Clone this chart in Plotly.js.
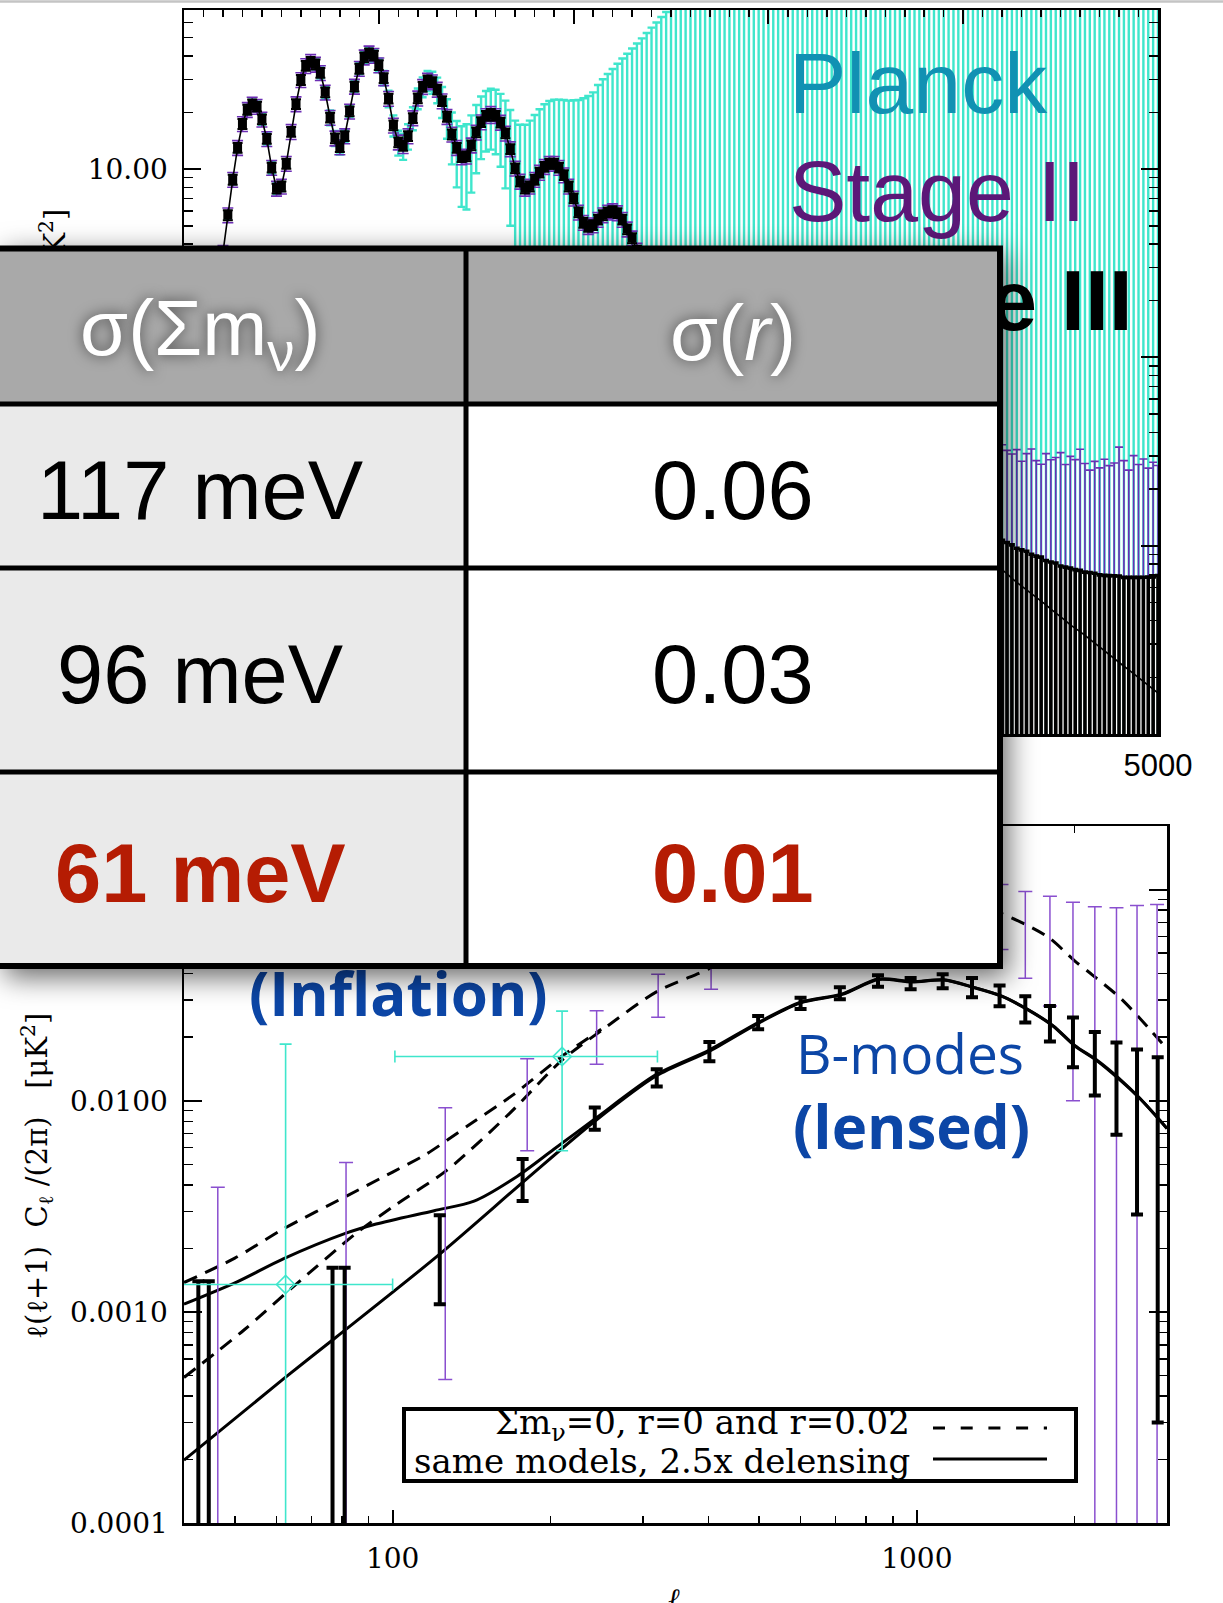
<!DOCTYPE html>
<html>
<head>
<meta charset="utf-8">
<script src="https://cdn.plot.ly/plotly-3.0.1.min.js"></script>
<style>
  html, body { margin: 0; padding: 0; background: #fff; overflow: hidden; }
  #spectra, #summary { position: absolute; left: 0; top: 0; width: 1223px; height: 1603px; }
  #summary { pointer-events: none; filter: drop-shadow(5px 8px 14px rgba(0,0,0,0.6)); }
</style>
</head>
<body>
<div id="spectra"></div>
<div id="summary"></div>
<script>
const W = 1223, H = 1603;

// ---------- E-mode spectrum (upper panel), bins of 25 in multipole from 200 ----------
const eeBinStart = 200, eeBinStep = 25;
const eeAcoustic = [
  3.6, 5.7, 8.8, 13.0, 17.4, 20.7, 22.1, 21.5, 18.4, 14.5,
  10.2, 7.9, 8.1, 10.7, 15.8, 22.2, 29.8, 35.4, 37.2, 36.0,
  32.5, 25.6, 18.8, 14.6, 13.1, 15.0, 20.3, 27.5, 34.2, 39.3,
  41.3, 40.1, 35.7, 30.5, 23.7, 17.1, 13.9, 13.3, 15.0, 18.7,
  23.8, 27.4, 29.6, 29.0, 26.5, 23.0, 19.0, 15.3, 13.0, 11.6,
  11.7, 13.4, 15.7, 17.8, 19.2, 19.7, 19.2, 17.7, 15.5, 12.8,
  10.1, 8.6, 7.9, 8.1, 8.8, 9.6, 10.3, 10.7, 10.7, 10.2,
  9.3, 8.1, 7.0, 5.9, 5.2, 4.95, 5.05, 5.4, 5.7, 5.9,
  6.0, 5.85, 5.4, 4.8, 4.3, 3.7
];
const eeTail = [
  3.3, 3.1, 3.05, 3.1, 3.2, 3.3, 3.3, 3.2, 3.0, 2.7,
  2.4, 2.15, 2.0, 1.95, 1.95, 1.93, 1.88, 1.78, 1.62, 1.46,
  1.32, 1.2, 1.1, 1.02, 0.96, 0.88, 0.8, 0.76, 0.72, 0.68,
  0.645, 0.61, 0.58, 0.55, 0.52, 0.49, 0.465, 0.44, 0.415, 0.39,
  0.37, 0.35, 0.33, 0.31, 0.295, 0.282, 0.27, 0.258, 0.246, 0.235,
  0.224, 0.214, 0.204, 0.195, 0.186, 0.178, 0.17, 0.162, 0.155, 0.148,
  0.141, 0.135, 0.129, 0.123, 0.117, 0.112, 0.107, 0.102, 0.097, 0.093,
  0.089, 0.085, 0.081, 0.0775
];
const eeDampingBand = [
  0.074, 0.071, 0.067, 0.064, 0.061, 0.0585, 0.056, 0.053, 0.051, 0.0485,
  0.046, 0.044, 0.042, 0.040, 0.038, 0.0366, 0.035, 0.0334, 0.032, 0.0304,
  0.029, 0.0276, 0.0264, 0.0252, 0.024, 0.0229, 0.0219, 0.0209, 0.0199, 0.019,
  0.0181, 0.0173, 0.0165
];
const eeModel = eeAcoustic.concat(eeTail, eeDampingBand);
const dampingBandStart = 4200;

// Planck EE uncertainty per bin
const planckErrEE = [
  0.2, 0.3, 0.5, 0.7, 1.0, 1.2, 1.3, 1.3, 1.2, 1.0, 0.8, 0.55, 0.45, 0.5, 0.65, 0.95, 1.35, 1.8, 2.1, 2.2,
  2.2, 2.0, 1.7, 1.35, 1.15, 1.15, 1.4, 1.8, 2.3, 2.7, 2.9, 3.0, 2.9, 2.7, 2.4, 2.2, 2.1, 2.1, 2.3, 2.6,
  3.0, 3.3, 3.6, 3.9, 4.1, 4.3, 4.5, 4.7, 5.0, 5.3, 5.6, 5.9, 6.2, 6.5, 6.8, 7.0, 7.2, 7.4, 7.6, 7.8,
  8.0, 8.6, 9.3, 10.0, 10.6, 11.2, 11.8, 12.3, 12.7, 13.2, 14.0, 15.0, 16.2, 17.4, 18.6, 19.5, 20.5, 22.6, 24.3, 26.1,
  28.0, 30.4, 33.3, 36.2, 39.4, 42.8, 46.2, 49.7, 53.4, 57, 61, 65, 69, 75, 81, 88, 96, 105, 115, 126,
  138, 151, 165, 181, 198, 217, 238, 261, 286, 313, 343, 376, 412, 450, 495, 540, 590, 650, 710, 780,
  850, 930, 1020, 1120, 1220, 1340, 1460, 1600, 1750, 1920, 2100, 2300, 2520, 2760, 3020, 3300, 3620, 3960, 4330, 4740,
  5190, 5680, 6220, 6800, 7450, 8150, 8920, 9760, 10700, 11700, 12800, 14000, 15300, 16800, 18400, 20100, 22000, 24100, 26400, 28900,
  31600, 34600, 37900, 41500, 45400, 49700, 54400, 59600, 65200, 71400, 78100, 85500, 93600, 102000, 112000, 123000, 134000,
  147000, 161000, 176000, 193000, 211000, 231000, 253000, 277000, 303000, 332000, 363000, 398000, 435000, 477000, 522000, 571000
];
// Stage II / Stage III upward uncertainties across the damping band (4200 ≤ ℓ ≤ 5000);
// the downward side of these bars reaches zero power
const stage2ErrDamping = [0.27,0.25,0.24,0.26,0.22,0.25,0.27,0.23,0.22,0.26,0.24,0.25,0.27,0.23,0.26,0.25,0.29,
                          0.24,0.22,0.25,0.23,0.26,0.24,0.25,0.31,0.26,0.23,0.28,0.25,0.27,0.24,0.26,0.25];
const stage3ErrDamping = [0.033,0.033,0.034,0.033,0.034,0.035,0.034,0.035,0.036,0.035,0.036,0.037,0.036,0.037,0.038,0.038,
                          0.039,0.039,0.040,0.041,0.041,0.042,0.043,0.044,0.045,0.045,0.046,0.047,0.048,0.049,0.050,0.051,0.053];
// fractional errors on the acoustic-peak points
const stage2PctErr = 9, stage3PctErr = 6;

// ---------- B-mode spectrum (lower panel) ----------
const lensR02Ell = [40, 50, 62, 82, 100, 116, 140, 170, 210, 250];
const lensR02    = [0.00138, 0.0018, 0.00248, 0.00356, 0.0046, 0.0056, 0.0077, 0.0107, 0.0162, 0.0218];
const lensR0Ell  = [40, 52, 64, 85, 101, 127, 167, 210, 250, 320, 400, 500, 600, 720, 845, 980, 1125, 1280, 1450, 1620, 1790, 2000, 2160, 2450, 2810, 3000];
const lensR0     = [0.00049, 0.00082, 0.00129, 0.00235, 0.0032, 0.0047, 0.0087, 0.0155, 0.0215, 0.033, 0.042, 0.056, 0.070, 0.080, 0.090, 0.091, 0.092, 0.086, 0.077, 0.068, 0.059, 0.046, 0.0395, 0.0305, 0.0212, 0.0176];
const delensR0Ell = [40, 62, 78, 122, 180, 243, 318, 402, 500, 600, 721, 844, 979, 1125, 1282, 1449, 1623, 1818, 2000, 2203, 2427, 2670, 3000];
const delensR0    = [0.000199, 0.000484, 0.00076, 0.00185, 0.00426, 0.0080, 0.0131, 0.0172, 0.0234, 0.0291, 0.0319, 0.0375, 0.0365, 0.0373, 0.0344, 0.0313, 0.0271, 0.0226, 0.0182, 0.0155, 0.0127, 0.0102, 0.0074];
const delensR02Ell = [40, 50.5, 62, 81, 93, 120, 143, 173, 203, 243, 318, 402, 500, 600, 721, 844, 979, 1125, 1282, 1449, 1623, 1818, 2000, 2203, 2427, 2670, 3000];
const delensR02    = [0.00109, 0.00139, 0.00179, 0.00235, 0.00261, 0.00302, 0.00335, 0.0044, 0.0059, 0.0082, 0.0133, 0.0174, 0.0236, 0.0293, 0.0321, 0.0377, 0.0367, 0.0374, 0.0345, 0.0314, 0.0272, 0.0227, 0.0183, 0.0156, 0.0128, 0.0102, 0.0074];

const stage3BBEll = [42.6, 44.6, 76.8, 81, 123, 177, 243, 319, 402, 498, 600, 713, 843, 973, 1120, 1274, 1438, 1610, 1794, 1985, 2185, 2403, 2630, 2880];
const stage3BB    = [0.0002, 0.0002, 0.00072, 0.00072, 0.00198, 0.00433, 0.0083, 0.0129, 0.0172, 0.0235, 0.029, 0.0324, 0.037, 0.0359, 0.0369, 0.0345, 0.0316, 0.0274, 0.0236, 0.0196, 0.0159, 0.0129, 0.0102, 0.0082];
const stage3BBErr = [0.0012, 0.0012, 0.0009, 0.0009, 0.00089, 0.00097, 0.001, 0.0012, 0.0018, 0.0017, 0.0018, 0.0021, 0.0023, 0.0022, 0.0028, 0.0036, 0.0036, 0.0039, 0.0045, 0.0052, 0.0053, 0.006, 0.0073, 0.0079];

const stage2BBEll = [46.4, 81.5, 126, 180.6, 245, 321, 405, 500, 600, 713, 843, 973, 1120, 1274, 1450, 1610, 1794, 1985, 2185, 2403, 2630, 2872];
const stage2BB    = [0.0002, 0.0007, 0.00488, 0.0108, 0.0208, 0.0323, 0.046, 0.058, 0.068, 0.076, 0.082, 0.085, 0.085, 0.083, 0.0789, 0.068, 0.0606, 0.0486, 0.04, 0.031, 0.024, 0.018];
const stage2BBErr = [0.0037, 0.0044, 0.0044, 0.005, 0.0059, 0.0074, 0.0123, 0.014, 0.016, 0.018, 0.02, 0.022, 0.024, 0.026, 0.0268, 0.030, 0.0325, 0.0386, 0.043, 0.051, 0.06, 0.067];

const planckBBEll    = [62.5, 210.5];
const planckBB       = [0.00135, 0.0162];
const planckBBErr    = [0.0172, 0.0104];
const planckBBEllErr = [37.5, 109.5];

// ---------- summary table ----------
const tableHeader = ['σ(Σm<sub>ν</sub>)', 'σ(<i>r</i>)'];
const neutrinoMassError = ['117 meV', '96 meV', '61 meV'];
const tensorRatioError  = ['0.06', '0.03', '0.01'];

// ---------- styling ----------
const CYAN = '#3fe6cc', PURPLE = '#6c2db4', PURPLE_BB = '#8a4fcf', BLUE = '#0c46a6';
const SANS = 'Liberation Sans, Arial, sans-serif';
const SERIF = 'DejaVu Serif, serif';
const GILL = 'Open Sans, Lato, sans-serif';

function minorLog(d0, d1) {
  const v = [];
  for (let d = d0; d <= d1; d++) for (let k = 2; k <= 9; k++) v.push(k * Math.pow(10, d));
  return v;
}
const px = (x) => x / W;
const py = (y) => 1 - y / H;

const axBase = {
  showline: true, linecolor: '#000', linewidth: 2.5, mirror: 'allticks',
  ticks: 'inside', tickcolor: '#000', tickwidth: 2, showgrid: false, zeroline: false, fixedrange: true
};
const minorBase = { ticks: 'inside', tickcolor: '#000', tickwidth: 1.5 };
const skip = { hoverinfo: 'skip', showlegend: false };

const eeDamp = eeModel.slice(eeModel.length - eeDampingBand.length);
const eePeaks = eeModel.slice(0, eeAcoustic.length);

const traces = [
  // upper panel
  Object.assign({ type: 'scatter', mode: 'markers', x0: eeBinStart, dx: eeBinStep, y: eeModel,
    marker: { size: 1, color: 'rgba(0,0,0,0)' },
    error_y: { type: 'data', array: planckErrEE, color: CYAN, thickness: 2.4, width: 4 },
    xaxis: 'x', yaxis: 'y' }, skip),
  Object.assign({ type: 'scatter', mode: 'markers', x0: eeBinStart, dx: eeBinStep, y: eePeaks,
    marker: { size: 1, color: 'rgba(0,0,0,0)' },
    error_y: { type: 'percent', value: stage2PctErr, color: PURPLE, thickness: 1.6, width: 5.5 },
    xaxis: 'x', yaxis: 'y' }, skip),
  Object.assign({ type: 'scatter', mode: 'markers', x0: dampingBandStart, dx: eeBinStep, y: eeDamp,
    marker: { size: 1, color: 'rgba(0,0,0,0)' },
    error_y: { type: 'data', symmetric: false, array: stage2ErrDamping, arrayminus: eeDamp, color: PURPLE, thickness: 1.6, width: 4 },
    xaxis: 'x', yaxis: 'y' }, skip),
  Object.assign({ type: 'scatter', mode: 'markers', x0: dampingBandStart, dx: eeBinStep, y: eeDamp,
    marker: { size: 1, color: 'rgba(0,0,0,0)' },
    error_y: { type: 'data', symmetric: false, array: stage3ErrDamping, arrayminus: eeDamp, color: '#000', thickness: 3.6, width: 3 },
    xaxis: 'x', yaxis: 'y' }, skip),
  Object.assign({ type: 'scatter', mode: 'markers', x0: eeBinStart, dx: eeBinStep, y: eePeaks,
    marker: { symbol: 'square', size: 9, color: '#000' },
    error_y: { type: 'percent', value: stage3PctErr, color: '#000', thickness: 2, width: 5 },
    xaxis: 'x', yaxis: 'y' }, skip),
  Object.assign({ type: 'scatter', mode: 'lines', x0: eeBinStart, dx: eeBinStep, y: eeModel,
    line: { color: '#000', width: 1.6 }, xaxis: 'x', yaxis: 'y' }, skip),

  // lower panel: model curves
  Object.assign({ type: 'scatter', mode: 'lines', x: lensR0Ell, y: lensR0,
    line: { color: '#000', width: 3, dash: '14px,9px', shape: 'spline', smoothing: 0.8 }, xaxis: 'x2', yaxis: 'y2' }, skip),
  Object.assign({ type: 'scatter', mode: 'lines', x: lensR02Ell, y: lensR02,
    line: { color: '#000', width: 3, dash: '14px,9px', shape: 'spline', smoothing: 0.8 }, xaxis: 'x2', yaxis: 'y2' }, skip),
  Object.assign({ type: 'scatter', mode: 'lines', x: delensR0Ell, y: delensR0,
    line: { color: '#000', width: 3, shape: 'spline', smoothing: 0.8 }, xaxis: 'x2', yaxis: 'y2' }, skip),
  Object.assign({ type: 'scatter', mode: 'lines', x: delensR02Ell, y: delensR02,
    line: { color: '#000', width: 3, shape: 'spline', smoothing: 0.8 }, xaxis: 'x2', yaxis: 'y2' }, skip),
  // lower panel: forecast band powers
  Object.assign({ type: 'scatter', mode: 'markers', x: stage2BBEll, y: stage2BB,
    marker: { size: 1, color: 'rgba(0,0,0,0)' },
    error_y: { type: 'data', array: stage2BBErr, color: PURPLE_BB, thickness: 1.5, width: 7 },
    xaxis: 'x2', yaxis: 'y2' }, skip),
  Object.assign({ type: 'scatter', mode: 'markers', x: stage3BBEll, y: stage3BB,
    marker: { size: 1, color: 'rgba(0,0,0,0)' },
    error_y: { type: 'data', array: stage3BBErr, color: '#000', thickness: 4, width: 6 },
    xaxis: 'x2', yaxis: 'y2' }, skip),
  Object.assign({ type: 'scatter', mode: 'markers', x: planckBBEll, y: planckBB,
    marker: { symbol: 'diamond-open', size: 14, color: CYAN, line: { width: 1.6, color: CYAN } },
    error_y: { type: 'data', array: planckBBErr, color: CYAN, thickness: 1.6, width: 6 },
    error_x: { type: 'data', array: planckBBEllErr, color: CYAN, thickness: 1.6, width: 6 },
    xaxis: 'x2', yaxis: 'y2' }, skip)
];

function note(x, y, text, font, extra) {
  return Object.assign({ xref: 'paper', yref: 'paper', x: px(x), y: py(y), text: text, font: font,
    showarrow: false, xanchor: 'center', yanchor: 'middle' }, extra || {});
}
const yTitle = 'ℓ(ℓ+1)\u00a0\u00a0C<sub>ℓ</sub>\u00a0/(2π)\u00a0\u00a0\u00a0[μK<sup>2</sup>]';

const layout = {
  width: W, height: H, margin: { l: 0, r: 0, t: 0, b: 0 },
  paper_bgcolor: '#fff', plot_bgcolor: '#fff', showlegend: false, hovermode: false,
  font: { family: SERIF, color: '#000' },
  xaxis: Object.assign({}, axBase, {
    domain: [px(184), px(1158)], anchor: 'y', range: [0, 5000],
    tickmode: 'linear', tick0: 0, dtick: 1000, ticklen: 14,
    minor: Object.assign({ tick0: 0, dtick: 100, ticklen: 7 }, minorBase),
    tickfont: { family: SANS, size: 31, color: '#000' }, ticklabelstandoff: 2
  }),
  yaxis: Object.assign({}, axBase, {
    domain: [py(734), py(10)], anchor: 'x', type: 'log', range: [-2, Math.log10(70)],
    tickmode: 'array', tickvals: [0.01, 0.1, 1, 10], ticktext: ['0.01', '0.10', '1.00', '10.00'], ticklen: 17,
    minor: Object.assign({ tickmode: 'array', tickvals: minorLog(-2, 1), ticklen: 9 }, minorBase),
    tickfont: { family: SERIF, size: 28, color: '#000' }, ticklabelstandoff: 8
  }),
  xaxis2: Object.assign({}, axBase, {
    domain: [px(184), px(1167)], anchor: 'y2', type: 'log', range: [Math.log10(40), Math.log10(3000)],
    tickmode: 'array', tickvals: [100, 1000], ticktext: ['100', '1000'], ticklen: 13,
    minor: Object.assign({ tickmode: 'array', tickvals: [50, 60, 70, 80, 90, 200, 300, 400, 500, 600, 700, 800, 900, 2000, 3000], ticklen: 7 }, minorBase),
    tickfont: { family: SERIF, size: 28, color: '#000' }, ticklabelstandoff: 9
  }),
  yaxis2: Object.assign({}, axBase, {
    domain: [py(1523.3), py(826)], anchor: 'x2', type: 'log', range: [-4, Math.log10(0.2)],
    tickmode: 'array', tickvals: [0.0001, 0.001, 0.01, 0.1], ticktext: ['0.0001', '0.0010', '0.0100', '0.1000'], ticklen: 18,
    minor: Object.assign({ tickmode: 'array', tickvals: minorLog(-4, -1), ticklen: 9 }, minorBase),
    tickfont: { family: SERIF, size: 28, color: '#000' }, ticklabelstandoff: 8
  }),
  shapes: [
    { type: 'line', xref: 'paper', yref: 'paper', x0: 0, x1: 1, y0: py(1.5), y1: py(1.5), line: { color: '#c4c4c4', width: 2.5 } },
    { type: 'rect', xref: 'paper', yref: 'paper', x0: px(404), x1: px(1076), y0: py(1409), y1: py(1481),
      fillcolor: '#fff', line: { color: '#000', width: 4 }, layer: 'above' },
    { type: 'line', xref: 'paper', yref: 'paper', x0: px(933), x1: px(1047), y0: py(1428), y1: py(1428),
      line: { color: '#000', width: 3, dash: '12px,15.7px' }, layer: 'above' },
    { type: 'line', xref: 'paper', yref: 'paper', x0: px(933), x1: px(1047), y0: py(1459), y1: py(1459),
      line: { color: '#000', width: 3 }, layer: 'above' }
  ],
  annotations: [
    note(787, 82.5, 'Planck', { family: SANS, size: 86, color: '#1191b3' }, { xanchor: 'left' }),
    note(787, 191.5, 'Stage II', { family: SANS, size: 86, color: '#5c1878' }, { xanchor: 'left' }),
    note(1135, 300, '<b>Stage III</b>', { family: SANS, size: 86, color: '#000' }, { xanchor: 'right' }),
    note(55, 372, yTitle, { family: SERIF, size: 29, color: '#000' }, { textangle: -90 }),
    note(37, 1176, yTitle, { family: SERIF, size: 29, color: '#000' }, { textangle: -90 }),
    note(674, 1580, '<i>ℓ</i>', { family: SERIF, size: 28, color: '#000' }, { yanchor: 'top' }),
    note(399, 923, 'B-modes', { family: GILL, size: 55, color: BLUE }),
    note(399, 993, '<b>(Inflation)</b>', { family: GILL, size: 60, color: BLUE }),
    note(794, 1052, 'B-modes', { family: GILL, size: 55, color: BLUE }, { xanchor: 'left' }),
    note(791, 1126, '<b>(lensed)</b>', { family: GILL, size: 60, color: BLUE }, { xanchor: 'left' }),
    note(912, 1424, 'Σm<sub>ν</sub>=0, r=0 and r=0.02', { family: SERIF, size: 34, color: '#000' }, { xanchor: 'right' }),
    note(912, 1461, 'same models, 2.5x delensing', { family: SERIF, size: 34, color: '#000' }, { xanchor: 'right' })
  ]
};

Plotly.newPlot('spectra', traces, layout, { staticPlot: true, displayModeBar: false });

// ---------- summary table drawn on its own layer above the spectra ----------
const tabLeft = -90, tabRight = 1000, colSplit = 466;
const rowEdges = [248.5, 404, 568, 772, 966];
const colCentre = [200, 733];
const rowCentre = [490, 674, 873];
const highlight = '#b51c03';

const tShapes = [
  { type: 'rect', x0: tabLeft, x1: tabRight, y0: rowEdges[0], y1: rowEdges[1], fillcolor: '#a9a9a9', line: { width: 0 } },
  { type: 'rect', x0: tabLeft, x1: colSplit, y0: rowEdges[1], y1: rowEdges[4], fillcolor: '#eaeaea', line: { width: 0 } },
  { type: 'rect', x0: colSplit, x1: tabRight, y0: rowEdges[1], y1: rowEdges[4], fillcolor: '#ffffff', line: { width: 0 } }
];
for (let i = 1; i < rowEdges.length - 1; i++) {
  tShapes.push({ type: 'line', x0: tabLeft, x1: tabRight, y0: rowEdges[i], y1: rowEdges[i], line: { color: '#000', width: 5 } });
}
tShapes.push({ type: 'line', x0: colSplit, x1: colSplit, y0: rowEdges[0], y1: rowEdges[4], line: { color: '#000', width: 5 } });
tShapes.push({ type: 'rect', x0: tabLeft, x1: tabRight, y0: rowEdges[0], y1: rowEdges[4], line: { color: '#000', width: 6 } });
tShapes.forEach(s => { s.xref = 'x'; s.yref = 'y'; });

const tAnn = [];
tableHeader.forEach((t, c) => tAnn.push({
  xref: 'x', yref: 'y', x: colCentre[c], y: 333, text: t, showarrow: false,
  font: { family: SANS, size: 78, color: '#fff', shadow: '0px 0px 14px rgba(0,0,0,0.6)' }
}));
neutrinoMassError.forEach((t, r) => {
  const last = r === neutrinoMassError.length - 1;
  [t, tensorRatioError[r]].forEach((txt, c) => tAnn.push({
    xref: 'x', yref: 'y', x: colCentre[c], y: rowCentre[r], showarrow: false,
    text: last ? '<b>' + txt + '</b>' : txt,
    font: { family: SANS, size: 83, color: last ? highlight : '#000' }
  }));
});

Plotly.newPlot('summary', [], {
  width: W, height: H, margin: { l: 0, r: 0, t: 0, b: 0 },
  paper_bgcolor: 'rgba(0,0,0,0)', plot_bgcolor: 'rgba(0,0,0,0)', showlegend: false,
  xaxis: { range: [0, W], visible: false, fixedrange: true },
  yaxis: { range: [H, 0], visible: false, fixedrange: true },
  shapes: tShapes, annotations: tAnn
}, { staticPlot: true, displayModeBar: false });
</script>
</body>
</html>
